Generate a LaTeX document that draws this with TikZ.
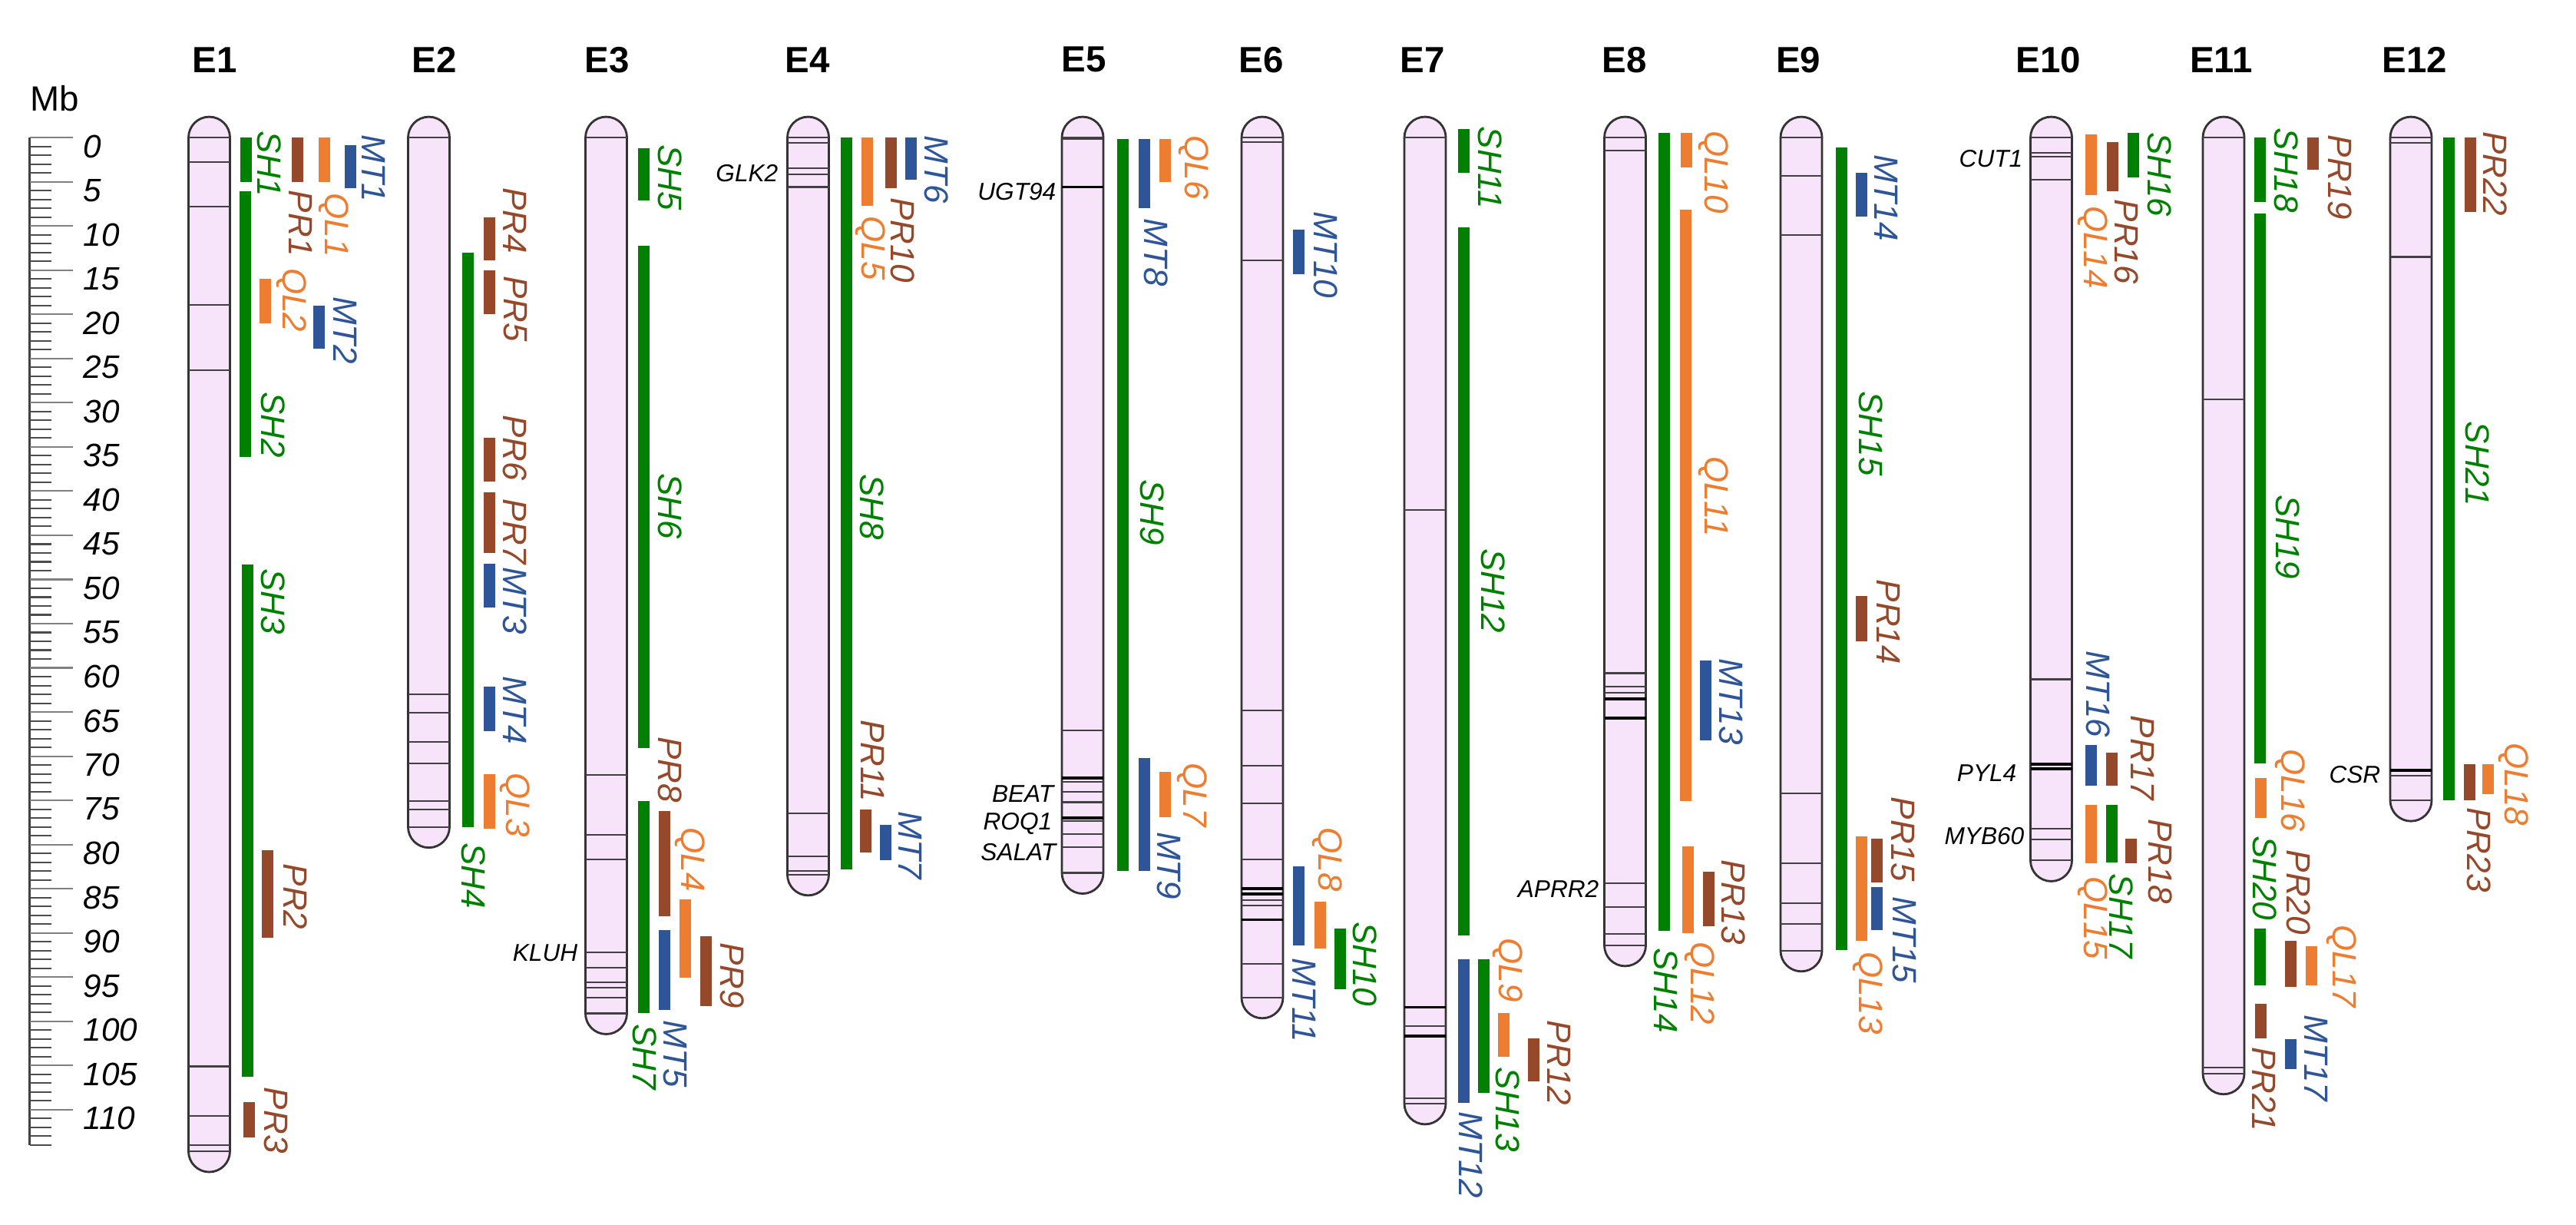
\documentclass[tikz,border=0pt]{standalone}
\usepackage{fontspec}
\setmainfont{Liberation Sans}
\definecolor{chrfill}{RGB}{248,228,250}
\definecolor{shgreen}{RGB}{0,128,0}
\definecolor{qlorange}{RGB}{237,125,49}
\definecolor{prbrown}{RGB}{150,72,42}
\definecolor{mtblue}{RGB}{46,85,151}
\tikzset{%
    chr/.style={fill=chrfill, draw=black!80, line width=0.8pt},
    bnd/.style={draw=black!75, line width=0.6pt},
    bndk/.style={draw=black, line width=1.1pt},
    tck/.style={draw=black!70, line width=0.6pt},
    lab/.style={rotate=-90, inner sep=0pt, font=\fontsize{12.5}{14}\selectfont\itshape},
    gen/.style={anchor=east, inner sep=0pt, font=\fontsize{9}{10}\selectfont\itshape},
    ttl/.style={inner sep=0pt, font=\fontsize{13.5}{15}\selectfont\bfseries},
    num/.style={anchor=west, inner sep=0pt, font=\fontsize{12}{14}\selectfont\itshape},
}
% chromosome: x centre, length (Mb), name, title x
\newcommand{\chrom}[4]{%
    \draw[chr] (#1-27,0) arc[start angle=180, end angle=0, radius=0.27cm] -- (#1+27,#2)
        arc[start angle=0, end angle=-180, radius=0.27cm] -- cycle;
    \draw[bnd] (#1-27,0) -- (#1+27,0) (#1-27,#2) -- (#1+27,#2);
    \node[ttl] (#3) at (#4,-8.8) {#3};}
\newcommand{\bands}[3][bnd]{\foreach \bd in {#3} \draw[#1] (#2-27,\bd) -- (#2+27,\bd);}
\newcommand{\qtl}[4]{\fill[#1] (#2-7.5,#3) rectangle (#2+7.5,#4);}
\newcommand{\qlab}[4]{\node[lab, text=#1] (#4) at (#2,#3) {#4};}

\begin{document}
\begin{tikzpicture}[x=0.01cm, y=-0.115cm]
    \useasboundingbox (0,-15.565) rectangle (3355,122.96);
    % scale
    \draw[black!75, line width=0.85pt] (38.6,0) -- (38.6,114);
    \foreach \m in {0,...,114} \draw[tck] (38.6,\m) -- (66.8,\m);
    \foreach \m in {0,5,...,110} {
        \draw[tck, draw=black!50] (38.6,\m) -- (94.6,\m);
        \node[num] (r\m) at (108,\m+1) {\m};
    }
    \node[inner sep=0pt, font=\fontsize{13}{15}\selectfont] (mb) at (71,-4.4) {Mb};

    \chrom{272.5}{114.7}{E1}{280}
    \chrom{558.5}{78}{E2}{566}
    \chrom{789.5}{99.1}{E3}{791}
    \chrom{1052.5}{83.4}{E4}{1052}
    \chrom{1410}{83.2}{E5}{1412}
    \chrom{1644}{97.3}{E6}{1643}
    \chrom{1856}{109.3}{E7}{1853}
    \chrom{2116.5}{91.4}{E8}{2116}
    \chrom{2346}{92}{E9}{2342}
    \chrom{2671.5}{81.8}{E10}{2668}
    \chrom{2896}{105.9}{E11}{2893}
    \chrom{3140}{75}{E12}{3145}

    \bands{272.5}{2.8,7.8,18.9,26.3,105.1,110.7,114}
    \bands{558.5}{63,65.1,68.4,70.8,75.1,76}
    \bands{789.5}{72.1,78.9,81.7,92.2,93.9,95.6,96.2,97.3}
    \bands{1052.5}{0.6,3.5,4.2,5.6,76.5,81.3,83}
    \bands{1410}{0.2,67.1,72.9,74,75.2,77.3,78.8,80.3}
    \bands[bndk]{1410}{5.6,72.5,77}
    \bands{1644}{0.5,13.9,64.8,71.1,75.3,81.7,86.3,86.9,93.5}
    \bands[bndk]{1644}{85,85.6,88.5}
    \bands{1856}{42.1,100.5,108.7}
    \bands[bndk]{1856}{98.4,101.7}
    \bands{2116.5}{1.5,60.6,62.1,62.8,84.4,87.1,90.1}
    \bands[bndk]{2116.5}{63.5,65.7}
    \bands{2346}{4.3,11,74.2,82.1,86.6,89}
    \bands{2671.5}{1.7,2.2,4.8,61.3,78.2,79.4}
    \bands[bndk]{2671.5}{70.9,71.4}
    \bands{2896}{29.6,105.2}
    \bands{3140}{0.6,13.5,72.2}
    \bands[bndk]{3140}{71.6}

    % E1
    \qtl{shgreen}{320}{0}{5}
    \qtl{shgreen}{319}{6.1}{36.1}
    \qtl{shgreen}{322.5}{48.3}{106.3}
    \qtl{prbrown}{387.5}{0}{5}
    \qtl{qlorange}{422}{0}{5}
    \qtl{mtblue}{456}{0.9}{5.7}
    \qtl{qlorange}{345}{16}{21}
    \qtl{mtblue}{415.5}{19}{23.9}
    \qtl{prbrown}{348.5}{80.6}{90.5}
    \qtl{prbrown}{324.5}{109.1}{113.1}
    \qlab{shgreen}{351}{3}{SH1}
    \qlab{shgreen}{356}{32.5}{SH2}
    \qlab{shgreen}{356}{52.5}{SH3}
    \qlab{prbrown}{392}{9.7}{PR1}
    \qlab{qlorange}{434.5}{9.9}{QL1}
    \qlab{mtblue}{486.5}{3.5}{MT1}
    \qlab{qlorange}{380}{18.4}{QL2}
    \qlab{mtblue}{450}{21.8}{MT2}
    \qlab{prbrown}{385}{85.9}{PR2}
    \qlab{prbrown}{360}{111.2}{PR3}

    % E2
    \qtl{shgreen}{609.5}{13.05}{78}
    \qtl{prbrown}{637}{9}{13.9}
    \qtl{prbrown}{637}{15}{20}
    \qtl{prbrown}{637}{34}{38.9}
    \qtl{prbrown}{637}{40.1}{47}
    \qtl{mtblue}{637}{48.2}{53.2}
    \qtl{mtblue}{637}{62.1}{67.2}
    \qtl{qlorange}{637}{72}{78.2}
    \qlab{shgreen}{617}{83.5}{SH4}
    \qlab{prbrown}{671}{9.4}{PR4}
    \qlab{prbrown}{671}{19.4}{PR5}
    \qlab{prbrown}{671}{35.1}{PR6}
    \qlab{prbrown}{671}{44.6}{PR7}
    \qlab{mtblue}{671}{52.4}{MT3}
    \qlab{mtblue}{671}{64.8}{MT4}
    \qlab{qlorange}{671}{75.5}{QL3}

    % E3
    \qtl{shgreen}{838}{1.2}{7.1}
    \qtl{shgreen}{838}{12.2}{69.1}
    \qtl{shgreen}{838}{75.1}{99.1}
    \qtl{prbrown}{865}{76.2}{88.1}
    \qtl{mtblue}{865}{89.7}{98.7}
    \qtl{qlorange}{892}{86.2}{95.1}
    \qtl{prbrown}{919}{90.4}{98.3}
    \qlab{shgreen}{873}{4.5}{SH5}
    \qlab{shgreen}{873}{41.7}{SH6}
    \qlab{prbrown}{873}{71.5}{PR8}
    \qlab{shgreen}{840}{104}{SH7}
    \qlab{qlorange}{899}{81.7}{QL4}
    \qlab{mtblue}{879}{103.7}{MT5}
    \qlab{prbrown}{953.5}{94.8}{PR9}
    \node[gen] (KLUH) at (753,92.3) {KLUH};

    % E4
    \qtl{shgreen}{1102}{0}{82.8}
    \qtl{qlorange}{1129}{0}{7.7}
    \qtl{prbrown}{1160}{0}{5.7}
    \qtl{mtblue}{1186}{0}{4.8}
    \qtl{prbrown}{1127}{76}{80.9}
    \qtl{mtblue}{1153}{77.8}{81.8}
    \qlab{shgreen}{1135.5}{41.8}{SH8}
    \qlab{qlorange}{1133.5}{12.5}{QL5}
    \qlab{prbrown}{1175.5}{11.6}{PR10}
    \qlab{mtblue}{1219.5}{3.6}{MT6}
    \qlab{prbrown}{1136.5}{70.5}{PR11}
    \qlab{mtblue}{1186}{80.1}{MT7}
    \node[gen] (GLK2) at (1014,4) {GLK2};

    % E5
    \qtl{shgreen}{1462}{0.2}{83}
    \qtl{mtblue}{1490}{0.2}{7.95}
    \qtl{qlorange}{1517}{0.2}{5.07}
    \qtl{mtblue}{1490}{70.2}{83}
    \qtl{qlorange}{1517}{71.8}{76.9}
    \qlab{shgreen}{1501}{42.4}{SH9}
    \qlab{mtblue}{1505.5}{13}{MT8}
    \qlab{qlorange}{1554.5}{3.4}{QL6}
    \qlab{mtblue}{1523}{82.4}{MT9}
    \qlab{qlorange}{1552.5}{74.4}{QL7}
    \node[gen] (UGT94) at (1376,6.1) {UGT94};
    \node[gen] (BEAT) at (1373,74.3) {BEAT};
    \node[gen] (ROQ1) at (1371,77.6) {ROQ1};
    \node[gen] (SALAT) at (1376,80.9) {SALAT};

    % E6
    \qtl{mtblue}{1691}{10.4}{15.5}
    \qtl{mtblue}{1691}{82.5}{91.4}
    \qtl{qlorange}{1719.5}{86.5}{91.8}
    \qtl{shgreen}{1745}{89.5}{96.4}
    \qlab{mtblue}{1726.5}{13.3}{MT10}
    \qlab{mtblue}{1698.5}{97.6}{MT11}
    \qlab{qlorange}{1729}{81.7}{QL8}
    \qlab{shgreen}{1778}{93.5}{SH10}

    % E7
    \qtl{shgreen}{1906}{-1}{4}
    \qtl{shgreen}{1906}{10.2}{90.3}
    \qtl{mtblue}{1906}{93}{109.2}
    \qtl{shgreen}{1932}{93}{108.1}
    \qtl{qlorange}{1958}{99.1}{104}
    \qtl{prbrown}{1997}{101.9}{106.8}
    \qlab{shgreen}{1940.5}{3.4}{SH11}
    \qlab{shgreen}{1944.5}{51.3}{SH12}
    \qlab{mtblue}{1915.5}{115.1}{MT12}
    \qlab{shgreen}{1963.5}{110}{SH13}
    \qlab{qlorange}{1963.5}{94.2}{QL9}
    \qlab{prbrown}{2030.5}{104.7}{PR12}

    % E8
    \qtl{shgreen}{2167.5}{-0.5}{89.8}
    \qtl{qlorange}{2196.5}{-0.5}{3.4}
    \qtl{qlorange}{2195}{8.2}{75.1}
    \qtl{mtblue}{2221}{59.2}{68.2}
    \qtl{qlorange}{2198}{80.2}{90}
    \qtl{prbrown}{2225}{83.1}{89.2}
    \qlab{shgreen}{2170}{96.5}{SH14}
    \qlab{qlorange}{2231.5}{3.9}{QL10}
    \qlab{qlorange}{2231.5}{40.6}{QL11}
    \qlab{mtblue}{2255}{63.8}{MT13}
    \qlab{qlorange}{2214}{95.7}{QL12}
    \qlab{prbrown}{2258}{86.5}{PR13}
    \node[gen] (APRR2) at (2083,85) {APRR2};

    % E9
    \qtl{shgreen}{2398}{1.1}{91.9}
    \qtl{mtblue}{2424}{4}{8.9}
    \qtl{prbrown}{2424}{51.9}{57}
    \qtl{qlorange}{2424}{79.1}{90.9}
    \qtl{prbrown}{2444.5}{79.3}{84.3}
    \qtl{mtblue}{2444.5}{84.8}{89.7}
    \qlab{shgreen}{2437}{33.5}{SH15}
    \qlab{mtblue}{2457}{6.8}{MT14}
    \qlab{prbrown}{2460}{54.8}{PR14}
    \qlab{qlorange}{2432.5}{96.8}{QL13}
    \qlab{prbrown}{2478}{79.4}{PR15}
    \qlab{mtblue}{2480}{90.8}{MT15}

    % E10
    \qtl{qlorange}{2723}{-0.4}{6.5}
    \qtl{prbrown}{2751}{0.5}{6.1}
    \qtl{shgreen}{2778}{-0.5}{4.5}
    \qtl{mtblue}{2723}{68.7}{73.3}
    \qtl{prbrown}{2750}{69.6}{73.3}
    \qtl{qlorange}{2723}{75.5}{82.1}
    \qtl{shgreen}{2750}{75.5}{82}
    \qtl{prbrown}{2775}{79.3}{82.1}
    \qlab{qlorange}{2726}{12.4}{QL14}
    \qlab{prbrown}{2769.5}{11.8}{PR16}
    \qlab{shgreen}{2812.5}{4.2}{SH16}
    \qlab{mtblue}{2732.5}{63}{MT16}
    \qlab{prbrown}{2790.5}{70.2}{PR17}
    \qlab{qlorange}{2726}{88.3}{QL15}
    \qlab{shgreen}{2763}{88.1}{SH17}
    \qlab{prbrown}{2813.5}{81.9}{PR18}
    \node[gen] (CUT1) at (2635,2.4) {CUT1};
    \node[gen] (PYL4) at (2627,71.9) {PYL4};
    \node[gen] (MYB60) at (2637,79) {MYB60};

    % E11
    \qtl{shgreen}{2943}{0}{7.3}
    \qtl{shgreen}{2943}{8.6}{70.8}
    \qtl{prbrown}{3012}{0}{3.6}
    \qtl{qlorange}{2944}{72.5}{77}
    \qtl{shgreen}{2943}{89.5}{95.9}
    \qtl{prbrown}{2983}{90.9}{96.1}
    \qtl{qlorange}{3010}{91.5}{95.9}
    \qtl{prbrown}{2944}{98}{101.9}
    \qtl{mtblue}{2983}{102}{105.4}
    \qlab{shgreen}{2977.5}{3.7}{SH18}
    \qlab{shgreen}{2979.5}{45.2}{SH19}
    \qlab{prbrown}{3048}{4.5}{PR19}
    \qlab{qlorange}{2982.5}{73.9}{QL16}
    \qlab{shgreen}{2949.5}{83.8}{SH20}
    \qlab{prbrown}{2994}{85.4}{PR20}
    \qlab{qlorange}{3050}{93.8}{QL17}
    \qlab{prbrown}{2948.5}{107.7}{PR21}
    \qlab{mtblue}{3016.5}{104.2}{MT17}

    % E12
    \qtl{shgreen}{3189}{0}{75}
    \qtl{prbrown}{3217}{0}{8.4}
    \qtl{prbrown}{3216.5}{70.9}{75}
    \qtl{qlorange}{3240}{70.9}{74.3}
    \qlab{shgreen}{3226.5}{36.9}{SH21}
    \qlab{prbrown}{3249.5}{4.1}{PR22}
    \qlab{prbrown}{3228.5}{80.6}{PR23}
    \qlab{qlorange}{3273.5}{73.2}{QL18}
    \node[gen] (CSR) at (3101,72.1) {CSR};
\end{tikzpicture}
\end{document}
